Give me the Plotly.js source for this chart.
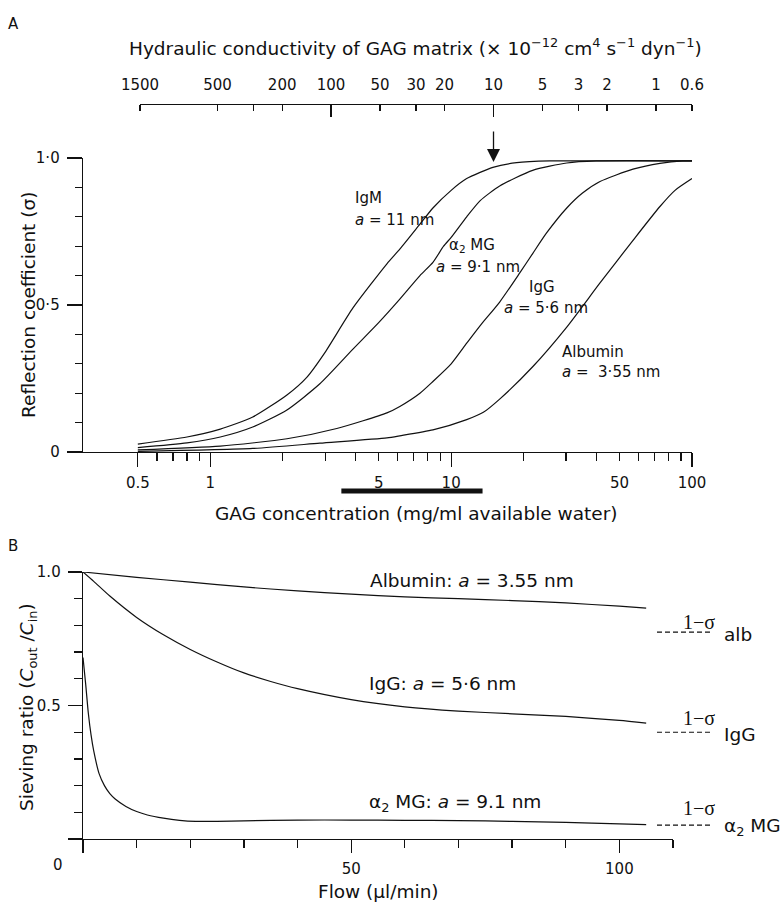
<!DOCTYPE html>
<html>
<head>
<meta charset="utf-8">
<script src="https://cdn.plot.ly/plotly-3.0.1.min.js"></script>
<style>html,body{margin:0;padding:0;background:#fff}</style>
</head>
<body>
<div id="chart" style="width:784px;height:905px"></div>
<script>
// ---------- Panel A: reflection coefficient vs GAG concentration ----------
const igmConc   = [0.5, 0.8, 1.1, 1.5, 2.08, 2.52, 3.0, 3.91, 5.41, 6.12, 7.42, 8.4, 10, 11.6, 14.9, 18.7, 25.7, 40, 100];
const igmSigma  = [0.027, 0.051, 0.078, 0.119, 0.194, 0.255, 0.34, 0.49, 0.64, 0.69, 0.775, 0.83, 0.89, 0.93, 0.968, 0.984, 0.99, 0.99, 0.99];

const a2mgConc  = [0.5, 0.8, 1.1, 1.5, 2.08, 2.85, 3.91, 5.0, 6.12, 7.42, 8.4, 9.3, 10, 11.6, 13.2, 15.9, 21.8, 30.2, 40, 100];
const a2mgSigma = [0.015, 0.031, 0.051, 0.085, 0.143, 0.232, 0.35, 0.44, 0.52, 0.6, 0.645, 0.7, 0.73, 0.8, 0.855, 0.905, 0.958, 0.983, 0.99, 0.99];

const iggConc   = [0.5, 1.1, 2.08, 3.35, 5.41, 6.12, 7.42, 8.4, 10, 11.6, 13.2, 15.9, 19.3, 21.8, 24.9, 30.2, 35, 41.5, 56.9, 73.6, 91.5, 100];
const iggSigma  = [0.007, 0.02, 0.045, 0.08, 0.133, 0.155, 0.2, 0.24, 0.3, 0.37, 0.43, 0.51, 0.61, 0.675, 0.745, 0.83, 0.88, 0.92, 0.962, 0.982, 0.99, 0.99];

const albConc   = [0.5, 1.5, 2.85, 5.41, 6.12, 8.4, 11.6, 13.6, 15.9, 21.8, 30.2, 41.5, 56.9, 73.6, 85, 100];
const albSigma  = [0.002, 0.012, 0.03, 0.048, 0.055, 0.075, 0.11, 0.135, 0.18, 0.29, 0.425, 0.575, 0.72, 0.835, 0.89, 0.93];

const gagTickVals = [0.5, 0.6, 0.7, 0.8, 0.9, 1, 2, 3, 4, 5, 6, 7, 8, 9, 10, 20, 30, 40, 50, 60, 70, 80, 90, 100];
const gagTickText = ['0.5', '', '', '', '', '1', '', '', '', '5', '', '', '', '', '10', '', '', '', '50', '', '', '', '', '100'];
const gagLongVals = [0.5, 1, 10, 100];
const gagPhysRange = [3.5, 13.5];          // black bar under the axis

const condTickVals = [1500, 500, 300, 200, 100, 50, 30, 20, 10, 5, 3, 2, 1, 0.6];
const condTickText = ['1500', '500', '', '200', '100', '50', '30', '20', '10', '5', '3', '2', '1', '0.6'];
const condLongVals = [100, 10];
const condArrowAt  = 10;
const condRange    = [1500, 0.6];

const sigmaTickVals = [0, 0.1, 0.2, 0.3, 0.4, 0.5, 0.6, 0.7, 0.8, 0.9, 1];
const sigmaTickText = ['0', '', '', '', '', '0·5', '', '', '', '', '1·0'];
const sigmaLongVals = [0, 0.5, 1];

// ---------- Panel B: sieving ratio vs flow ----------
const albFlow   = [0, 10, 20, 30, 40, 50, 60, 70, 80, 90, 100, 105];
const albRatio  = [1.0, 0.98, 0.962, 0.944, 0.929, 0.917, 0.907, 0.9, 0.893, 0.884, 0.872, 0.865];

const iggFlow   = [0, 2, 5, 10, 15, 20, 25, 30, 35, 40, 50, 60, 70, 80, 90, 100, 105];
const iggRatio  = [1.0, 0.965, 0.91, 0.83, 0.765, 0.71, 0.663, 0.622, 0.59, 0.563, 0.522, 0.495, 0.479, 0.469, 0.459, 0.444, 0.434];

const a2mgFlow  = [0, 0.5, 1, 1.5, 2, 3, 4, 5, 6, 8, 10, 12, 15, 18, 21, 25, 30, 40, 50, 60, 70, 80, 90, 100, 105];
const a2mgRatio = [0.68, 0.58, 0.47, 0.39, 0.33, 0.245, 0.2, 0.17, 0.15, 0.122, 0.103, 0.09, 0.078, 0.07, 0.066, 0.066, 0.068, 0.071, 0.071, 0.07, 0.069, 0.066, 0.062, 0.057, 0.054];

const oneMinusSigma = {alb: 0.775, igg: 0.40, a2mg: 0.052};

const flowTickVals  = [0, 10, 20, 30, 40, 50, 60, 70, 80, 90, 100, 110];
const flowTickText  = ['', '', '', '', '', '50', '', '', '', '', '100', ''];
const flowLongVals  = [0, 50, 100];
const flowRange     = [0, 110];
const ratioTickVals = [0, 0.1, 0.2, 0.3, 0.4, 0.5, 0.6, 0.7, 0.8, 0.9, 1];
const ratioTickText = ['', '', '', '', '', '0.5', '', '', '', '', '1.0'];
const ratioLongVals = [0, 0.5, 1];

// ---------- layout helpers ----------
const W = 784, H = 905;
const fx = p => p / W;
const fy = p => 1 - p / H;
const L = Math.log10;
const FONT = 'DejaVu Sans, Verdana, sans-serif';
const SERIF = 'Liberation Serif, Times New Roman, serif';
const INK = '#111';

const line = {color: INK, width: 1.2, shape: 'spline', smoothing: 0.6};
function curve(x, y, xa, ya) {
  return {type: 'scatter', mode: 'lines', x: x, y: y, xaxis: xa, yaxis: ya, line: line,
          showlegend: false, hoverinfo: 'skip'};
}
function dummy(xa, ya) {
  return {type: 'scatter', mode: 'lines', x: [], y: [], xaxis: xa, yaxis: ya, showlegend: false, hoverinfo: 'skip'};
}

const data = [
  curve(igmConc, igmSigma, 'x', 'y'),
  curve(a2mgConc, a2mgSigma, 'x', 'y'),
  curve(iggConc, iggSigma, 'x', 'y'),
  curve(albConc, albSigma, 'x', 'y'),
  curve(albFlow, albRatio, 'x2', 'y2'),
  curve(iggFlow, iggRatio, 'x2', 'y2'),
  curve(a2mgFlow, a2mgRatio, 'x2', 'y2'),
  dummy('x3', 'y'), dummy('x5', 'y'), dummy('x7', 'y'), dummy('x4', 'y'), dummy('x', 'y3'),
  dummy('x6', 'y2'), dummy('x2', 'y4')
];

const tickFont = {family: FONT, size: 15, color: INK};
const axBase = {showline: true, linecolor: INK, linewidth: 1.3, showgrid: false, zeroline: false,
                tickwidth: 1.2, tickcolor: INK, tickmode: 'array', tickfont: tickFont};
const longBase = {showline: false, showgrid: false, zeroline: false, showticklabels: false,
                  tickwidth: 1.2, tickcolor: INK, tickmode: 'array'};

const gagRange = [L(0.296), L(100)];
const topRange = [L(condRange[0]), L(condRange[1])];

const layout = {
  width: W, height: H,
  margin: {l: 0, r: 0, t: 0, b: 0},
  paper_bgcolor: '#fff', plot_bgcolor: 'rgba(0,0,0,0)',
  showlegend: false,
  font: {family: FONT, color: INK},
  // Panel A bottom (GAG concentration)
  xaxis: Object.assign({}, axBase, {
    domain: [fx(83), fx(692)], anchor: 'y', type: 'log', range: gagRange,
    ticks: 'outside', ticklen: 8, tickvals: gagTickVals, ticktext: gagTickText, ticklabelstandoff: 9
  }),
  xaxis4: Object.assign({}, longBase, {
    overlaying: 'x', anchor: 'y', type: 'log', range: gagRange,
    ticks: 'outside', ticklen: 14, tickvals: gagLongVals
  }),
  yaxis: Object.assign({}, axBase, {
    domain: [fy(452), fy(158)], anchor: 'x', range: [0, 1],
    ticks: 'outside', ticklen: 7, tickvals: sigmaTickVals, ticktext: sigmaTickText, ticklabelstandoff: 12
  }),
  yaxis3: Object.assign({}, longBase, {
    overlaying: 'y', anchor: 'x', range: [0, 1],
    ticks: 'outside', ticklen: 15, tickvals: sigmaLongVals
  }),
  // Panel A top (hydraulic conductivity): line + labels
  xaxis3: Object.assign({}, axBase, {
    domain: [fx(140), fx(692)], anchor: 'free', position: fy(104), side: 'top',
    type: 'log', range: topRange,
    ticks: '', tickvals: condTickVals, ticktext: condTickText, ticklabelstandoff: 8
  }),
  // short ticks hanging below the top line
  xaxis7: Object.assign({}, longBase, {
    domain: [fx(140), fx(692)], anchor: 'free', position: fy(104), side: 'bottom',
    type: 'log', range: topRange,
    ticks: 'outside', ticklen: 6, tickvals: condTickVals
  }),
  // long ticks
  xaxis5: Object.assign({}, longBase, {
    domain: [fx(140), fx(692)], anchor: 'free', position: fy(104), side: 'bottom',
    type: 'log', range: topRange,
    ticks: 'outside', ticklen: 12, tickvals: condLongVals
  }),
  // Panel B
  xaxis2: Object.assign({}, axBase, {
    domain: [fx(83), fx(673)], anchor: 'y2', range: flowRange,
    ticks: 'outside', ticklen: 8, tickvals: flowTickVals, ticktext: flowTickText, ticklabelstandoff: 8
  }),
  xaxis6: Object.assign({}, longBase, {
    overlaying: 'x2', anchor: 'y2', range: flowRange,
    ticks: 'outside', ticklen: 13, tickvals: flowLongVals
  }),
  yaxis2: Object.assign({}, axBase, {
    domain: [fy(839), fy(572)], anchor: 'x2', range: [0, 1],
    ticks: 'outside', ticklen: 8, tickvals: ratioTickVals, ticktext: ratioTickText, ticklabelstandoff: 10
  }),
  yaxis4: Object.assign({}, longBase, {
    overlaying: 'y2', anchor: 'x2', range: [0, 1],
    ticks: 'outside', ticklen: 14, tickvals: ratioLongVals
  }),
  shapes: [
    {type: 'line', xref: 'x', yref: 'paper', x0: gagPhysRange[0], x1: gagPhysRange[1], y0: fy(491), y1: fy(491),
     line: {color: INK, width: 5}},
    {type: 'line', xref: 'paper', yref: 'y2', x0: fx(657), x1: fx(713), y0: oneMinusSigma.alb, y1: oneMinusSigma.alb,
     line: {color: INK, width: 1.1, dash: '5px,3px'}},
    {type: 'line', xref: 'paper', yref: 'y2', x0: fx(657), x1: fx(713), y0: oneMinusSigma.igg, y1: oneMinusSigma.igg,
     line: {color: INK, width: 1.1, dash: '5px,3px'}},
    {type: 'line', xref: 'paper', yref: 'y2', x0: fx(657), x1: fx(713), y0: oneMinusSigma.a2mg, y1: oneMinusSigma.a2mg,
     line: {color: INK, width: 1.1, dash: '5px,3px'}}
  ],
  annotations: []
};

const A = layout.annotations;
const big = {family: FONT, size: 18.5, color: INK};
const lbl = {family: FONT, size: 15, color: INK};
function txt(o) { A.push(Object.assign({showarrow: false, xanchor: 'center', yanchor: 'middle', font: big}, o)); }

// panel letters
txt({text: 'A', xref: 'paper', yref: 'paper', x: fx(13), y: fy(24), font: {family: FONT, size: 15, color: INK}});
txt({text: 'B', xref: 'paper', yref: 'paper', x: fx(13), y: fy(546), font: {family: FONT, size: 15, color: INK}});

// axis titles
txt({text: 'Hydraulic conductivity of GAG matrix (× 10<sup>−12</sup> cm<sup>4</sup> s<sup>−1</sup> dyn<sup>−1</sup>)',
     xref: 'paper', yref: 'paper', x: fx(415), y: fy(47)});
txt({text: 'GAG concentration (mg/ml available water)', xref: 'paper', yref: 'paper', x: fx(416), y: fy(513)});
txt({text: 'Reflection coefficient (σ)', xref: 'paper', yref: 'paper', x: fx(28), y: fy(305), textangle: -90});
txt({text: 'Flow (µl/min)', xref: 'paper', yref: 'paper', x: fx(378), y: fy(891)});
txt({text: 'Sieving ratio (<i>C</i><sub>out</sub> /<i>C</i><sub>in</sub>)', xref: 'paper', yref: 'paper',
     x: fx(28), y: fy(707), textangle: -90});

// shared origin label of panel B
txt({text: '0', xref: 'x2', yref: 'paper', x: 0, xshift: -25, y: fy(865), font: tickFont});

// arrow at hydraulic conductivity 10
A.push({xref: 'x3', yref: 'y', x: L(condArrowAt), y: 0.986, ax: 0, ay: -32, showarrow: true, text: '',
        arrowhead: 2, arrowsize: 2, arrowwidth: 1.3, arrowcolor: INK});

// panel A curve labels
txt({text: 'IgM', xref: 'x', yref: 'y', x: L(3.9), y: 0.864, xanchor: 'left', font: lbl});
txt({text: '<i>a</i> = 11 nm', xref: 'x', yref: 'y', x: L(3.9), y: 0.789, xanchor: 'left', font: lbl});
txt({text: 'α<sub>2</sub> MG', xref: 'x', yref: 'y', x: L(9.6), y: 0.704, xanchor: 'left', font: lbl});
txt({text: '<i>a</i> = 9·1 nm', xref: 'x', yref: 'y', x: L(8.47), y: 0.629, xanchor: 'left', font: lbl});
txt({text: 'IgG', xref: 'x', yref: 'y', x: L(20.6), y: 0.561, xanchor: 'left', font: lbl});
txt({text: '<i>a</i> = 5·6 nm', xref: 'x', yref: 'y', x: L(16.3), y: 0.49, xanchor: 'left', font: lbl});
txt({text: 'Albumin', xref: 'x', yref: 'y', x: L(28.2), y: 0.34, xanchor: 'left', font: lbl});
txt({text: '<i>a</i> =  3·55 nm', xref: 'x', yref: 'y', x: L(28.2), y: 0.272, xanchor: 'left', font: lbl});

// panel B curve labels
txt({text: 'Albumin: <i>a</i> = 3.55 nm', xref: 'x2', yref: 'y2', x: 53.1, y: 0.97, xanchor: 'left'});
txt({text: 'IgG: <i>a</i> = 5·6 nm', xref: 'x2', yref: 'y2', x: 52.9, y: 0.584, xanchor: 'left'});
txt({text: 'α<sub>2</sub> MG: <i>a</i> = 9.1 nm', xref: 'x2', yref: 'y2', x: 52.9, y: 0.135, xanchor: 'left'});

// 1 - sigma markers
const sFont = {family: SERIF, size: 20, color: INK};
[['alb', 'alb', 10], ['igg', 'IgG', 14], ['a2mg', 'α<sub>2</sub> MG', 17]].forEach(([k, name, sh]) => {
  txt({text: '1−σ', xref: 'paper', yref: 'y2', x: fx(699), y: oneMinusSigma[k], yshift: sh, font: sFont});
  txt({text: name, xref: 'paper', yref: 'y2', x: fx(722), y: oneMinusSigma[k], yshift: -2, xanchor: 'left'});
});

Plotly.newPlot('chart', data, layout, {staticPlot: true, displayModeBar: false});
</script>
</body>
</html>
